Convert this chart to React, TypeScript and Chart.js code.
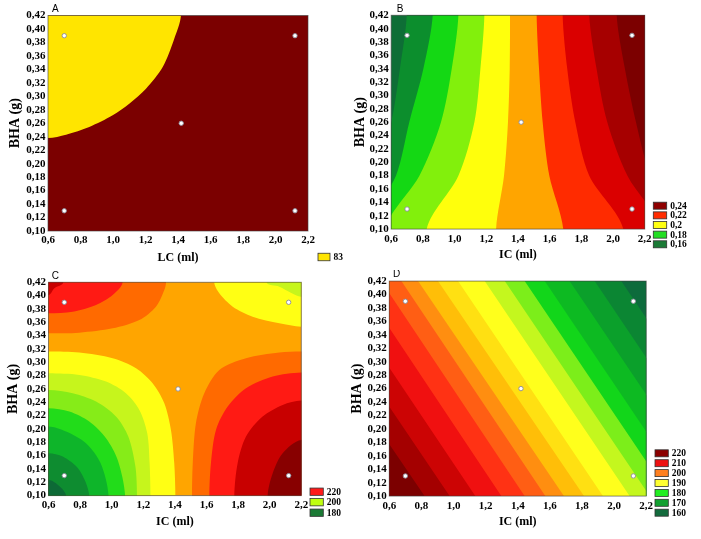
import React, { useEffect, useRef } from 'react';
import { Chart, registerables } from 'chart.js';

Chart.register(...registerables);

type P = [number, number];

// ---------- shared axes and design points ----------
const xTickValues = [0.6, 0.8, 1.0, 1.2, 1.4, 1.6, 1.8, 2.0, 2.2];
const yTickValues = [0.10, 0.12, 0.14, 0.16, 0.18, 0.20, 0.22, 0.24, 0.26, 0.28, 0.30, 0.32, 0.34, 0.36, 0.38, 0.40, 0.42];
const designX = [0.7, 0.7, 1.42, 2.12, 2.12];
const designY = [0.39, 0.13, 0.26, 0.39, 0.13];
const yAxisTitle = 'BHA (g)';

// ---------- panel A ----------
const aXTitle = 'LC (ml)';
const aBaseColor = '#7B0000';
const aYellowColor = '#FFE500';
const aYellowEdge: P[] = [[0.6, 0.238], [0.711, 0.2431], [0.854, 0.2545], [0.998, 0.2718], [1.1, 0.2891], [1.203, 0.3114], [1.306, 0.3435], [1.377, 0.3856], [1.418, 0.42]];
const aLegendLabels = ['83'];
const aLegendColors = ['#FFE500'];

// ---------- panel B (contour edges read at rows of BHA) ----------
const bRowY = [0.42, 0.34, 0.26, 0.18, 0.10];
const bEdge1X = [0.698, 0.655, 0.60, 0.50, 0.38];
const bEdge2X = [0.862, 0.803, 0.714, 0.630, 0.445];
const bEdge3X = [1.024, 0.982, 0.914, 0.778, 0.561];
const bEdge4X = [1.188, 1.163, 1.125, 1.024, 0.824];
const bEdge5X = [1.350, 1.348, 1.337, 1.312, 1.262];
const bEdge6X = [1.518, 1.533, 1.556, 1.598, 1.686];
const bEdge7X = [1.682, 1.711, 1.762, 1.850, 2.065];
const bEdge8X = [1.850, 1.896, 1.964, 2.091, 2.300];
const bEdge9X = [2.023, 2.075, 2.145, 2.235, 2.400];
const bColors = ['#0E6E36', '#0C8E2D', '#14D814', '#82F00C', '#FFFF0C', '#FFA500', '#FF2B00', '#DA0000', '#A60000', '#7C0000'];
const bLegendLabels = ['0,24', '0,22', '0,2', '0,18', '0,16'];
const bLegendColors = ['#8E0000', '#FF2B00', '#FFFF10', '#22DD22', '#1A7A35'];

// ---------- panel C (saddle contours) ----------
const cCenterColor = '#FFA500';
const cLowLeft1: P[] = [[0.6, 0.316], [0.795, 0.3145], [1.006, 0.306], [1.154, 0.291], [1.259, 0.2685], [1.333, 0.2385], [1.375, 0.1985], [1.396, 0.1485], [1.403, 0.10]];
const cLowLeft2: P[] = [[0.6, 0.2835], [0.795, 0.281], [0.964, 0.271], [1.09, 0.2535], [1.175, 0.2285], [1.225, 0.1935], [1.24, 0.1485], [1.245, 0.10]];
const cLowLeft3: P[] = [[0.6, 0.2585], [0.753, 0.2535], [0.901, 0.241], [1.027, 0.2185], [1.105, 0.1885], [1.15, 0.1435], [1.16, 0.10]];
const cLowLeft4: P[] = [[0.6, 0.231], [0.732, 0.226], [0.858, 0.211], [0.964, 0.186], [1.038, 0.1535], [1.085, 0.10]];
const cLowLeft5: P[] = [[0.6, 0.2035], [0.711, 0.196], [0.837, 0.1785], [0.93, 0.1485], [0.98, 0.10]];
const cLowLeft6: P[] = [[0.6, 0.1635], [0.69, 0.1585], [0.795, 0.1385], [0.858, 0.10]];
const cLowLeft7: P[] = [[0.6, 0.1235], [0.647, 0.1185], [0.711, 0.10]];
const cLowLeftColors = ['#FFFF14', '#C6F51C', '#86EC18', '#22DC1A', '#0EB52A', '#0E8C30', '#0D6A36'];
const cHighTop1: P[] = [[0.6, 0.3435], [0.795, 0.3445], [1.006, 0.351], [1.175, 0.3635], [1.28, 0.3835], [1.333, 0.4085], [1.344, 0.42]];
const cHighTop2: P[] = [[0.6, 0.3735], [0.753, 0.376], [0.901, 0.386], [1.006, 0.401], [1.069, 0.42]];
const cHighTop3: P[] = [[0.6, 0.401], [0.637, 0.411], [0.694, 0.42]];
const cHighTopColors = ['#FF6A00', '#FF1A14', '#C80000'];
const cLowTop1: P[] = [[1.649, 0.42], [1.681, 0.4035], [1.766, 0.3835], [1.892, 0.3685], [2.061, 0.3585], [2.2, 0.3535]];
const cLowTop2: P[] = [[1.981, 0.42], [2.061, 0.4135], [2.134, 0.4045], [2.2, 0.3985]];
const cLowTopColors = ['#FFFF14', '#C6F51C'];
const cHighRight1: P[] = [[1.508, 0.10], [1.513, 0.1485], [1.533, 0.2085], [1.586, 0.2535], [1.681, 0.2885], [1.85, 0.306], [2.061, 0.3145], [2.2, 0.316]];
const cHighRight2: P[] = [[1.618, 0.10], [1.628, 0.1485], [1.66, 0.1985], [1.734, 0.2335], [1.85, 0.261], [2.019, 0.2785], [2.2, 0.2845]];
const cHighRight3: P[] = [[1.776, 0.10], [1.797, 0.1485], [1.85, 0.1885], [1.955, 0.2185], [2.082, 0.236], [2.2, 0.2425]];
const cHighRight4: P[] = [[1.987, 0.10], [2.019, 0.1335], [2.082, 0.1635], [2.2, 0.1835]];
const cHighRightColors = ['#FF6A00', '#FF1A14', '#C80000', '#880000'];
const cLegendLabels = ['220', '200', '180'];
const cLegendColors = ['#FF1A1A', '#BFFF10', '#1B7A35'];

// ---------- panel D (straight contour edges, top and bottom crossings) ----------
const dRowTopY = 0.42;
const dRowBottomY = 0.10;
const dTopX = [2.045, 1.879, 1.723, 1.568, 1.443, 1.319, 1.194, 1.028, 0.903, 0.779, 0.675, 0.550, 0.405, 0.239, 0.073, -0.093];
const dBottomX = [2.948, 2.782, 2.626, 2.471, 2.346, 2.222, 2.097, 1.931, 1.813, 1.688, 1.572, 1.443, 1.298, 1.136, 0.976, 0.820];
const dColors = ['#0D6B3C', '#0B8633', '#0BA02B', '#0DBA22', '#12D61A', '#7CEE1A', '#C4F71E', '#FFFF1C', '#FFE012', '#FFBE08', '#FF8E10', '#FF5E14', '#FF3214', '#F01010', '#CC0404', '#A40000', '#7C0000'];
const dLegendLabels = ['220', '210', '200', '190', '180', '170', '160'];
const dLegendColors = ['#8B0000', '#EE1111', '#FF8020', '#FFFF30', '#22EE22', '#12A030', '#136B3D'];

// ---------- polygon helpers (far points lie outside the plot and are clipped) ----------
const FAR_L = 0.0, FAR_R = 2.9, FAR_T = 0.56, FAR_B = -0.04;
const last = (c: P[]) => c[c.length - 1];
const rectPoly = (): P[] => [[FAR_R, FAR_B], [FAR_L, FAR_B], [FAR_L, FAR_T], [FAR_R, FAR_T]];
const tlPoly = (c: P[]): P[] => [[FAR_L, c[0][1]], ...c, [last(c)[0], FAR_T], [FAR_L, FAR_T]];
const blPoly = (c: P[]): P[] => [[FAR_L, FAR_B], [FAR_L, c[0][1]], ...c, [last(c)[0], FAR_B]];
const trPoly = (c: P[]): P[] => [[c[0][0], FAR_T], ...c, [FAR_R, last(c)[1]], [FAR_R, FAR_T]];
const brPoly = (c: P[]): P[] => [[c[0][0], FAR_B], ...c, [FAR_R, last(c)[1]], [FAR_R, FAR_B]];
const rightOf = (xs: number[], ys: number[]): P[] => [[FAR_R, FAR_T], [xs[0], FAR_T], ...xs.map((x, i) => [x, ys[i]] as P), [xs[xs.length - 1], FAR_B], [FAR_R, FAR_B]];
const lowerLeftOf = (xt: number, xb: number): P[] => [[xt, dRowTopY], [xb, dRowBottomY], [xb, FAR_B], [-3, FAR_B], [-3, FAR_T], [xt, FAR_T]];

type Region = { pts: P[]; color: string };

const regionsA: Region[] = [
  { pts: rectPoly(), color: aBaseColor },
  { pts: tlPoly(aYellowEdge), color: aYellowColor },
];
const regionsB: Region[] = [
  { pts: rectPoly(), color: bColors[0] },
  ...[bEdge1X, bEdge2X, bEdge3X, bEdge4X, bEdge5X, bEdge6X, bEdge7X, bEdge8X, bEdge9X].map((xs, i) => ({ pts: rightOf(xs, bRowY), color: bColors[i + 1] })),
];
const regionsC: Region[] = [
  { pts: rectPoly(), color: cCenterColor },
  ...[cLowLeft1, cLowLeft2, cLowLeft3, cLowLeft4, cLowLeft5, cLowLeft6, cLowLeft7].map((c, i) => ({ pts: blPoly(c), color: cLowLeftColors[i] })),
  ...[cHighTop1, cHighTop2, cHighTop3].map((c, i) => ({ pts: tlPoly(c), color: cHighTopColors[i] })),
  ...[cLowTop1, cLowTop2].map((c, i) => ({ pts: trPoly(c), color: cLowTopColors[i] })),
  ...[cHighRight1, cHighRight2, cHighRight3, cHighRight4].map((c, i) => ({ pts: brPoly(c), color: cHighRightColors[i] })),
];
const regionsD: Region[] = [
  { pts: rectPoly(), color: dColors[0] },
  ...dTopX.map((xt, i) => ({ pts: lowerLeftOf(xt, dBottomX[i]), color: dColors[i + 1] })),
];

const asData = (pts: P[]) => {
  const d = pts.map(([x, y]) => ({ x, y }));
  let asc = true;
  for (let i = 1; i < d.length; i++) if (d[i].x < d[i - 1].x) { asc = false; break; }
  return asc ? d.reverse() : d;
};

const SERIF = '"Liberation Serif", "Times New Roman", serif';
const SANS = '"Liberation Sans", Arial, sans-serif';

const decorPlugin = {
  id: 'decor',
  afterDraw(chart: any, _args: any, o: any) {
    const { ctx, chartArea: a } = chart;
    ctx.save();
    ctx.strokeStyle = 'rgba(60,60,60,0.6)';
    ctx.lineWidth = 1;
    ctx.strokeRect(a.left, a.top, a.right - a.left, a.bottom - a.top);
    ctx.fillStyle = '#000';
    ctx.font = '10px ' + SANS;
    ctx.textAlign = 'left';
    ctx.textBaseline = 'alphabetic';
    ctx.fillText(o.letter, a.left + o.letterDx, a.top - o.letterDy);
    ctx.font = 'bold 9.5px ' + SERIF;
    ctx.textBaseline = 'middle';
    o.labels.forEach((lab: string, i: number) => {
      const cy = o.y0 + i * o.step;
      ctx.fillStyle = o.colors[i];
      ctx.fillRect(o.x, cy - o.h / 2, o.w, o.h);
      ctx.strokeStyle = '#333';
      ctx.lineWidth = 0.8;
      ctx.strokeRect(o.x, cy - o.h / 2, o.w, o.h);
      ctx.fillStyle = '#000';
      ctx.fillText(lab, o.x + o.w + 3.5, cy + 0.5);
    });
    ctx.restore();
  },
};

type PanelCfg = {
  left: number; top: number; w: number; h: number;
  plot: { l: number; t: number; r: number; b: number };
  xTitle: string; yTitlePad: number; xTitlePad: number; tension: number;
  regions: Region[];
  letter: string; letterDx: number; letterDy: number;
  legend: { labels: string[]; colors: string[]; x: number; y0: number; step: number; w: number; h: number };
};

const panels: PanelCfg[] = [
  {
    left: 0, top: 0, w: 350, h: 270, plot: { l: 48, t: 15.5, r: 308, b: 231 },
    xTitle: aXTitle, yTitlePad: 8, xTitlePad: 6.3, tension: 0.3, regions: regionsA,
    letter: 'A', letterDx: 4, letterDy: 3.5,
    legend: { labels: aLegendLabels, colors: aLegendColors, x: 318, y0: 257, step: 9.7, w: 12, h: 7.5 },
  },
  {
    left: 350, top: 0, w: 351, h: 270, plot: { l: 41.2, t: 15.3, r: 294.7, b: 229.1 },
    xTitle: 'IC (ml)', yTitlePad: 3, xTitlePad: 9, tension: 0.3, regions: regionsB,
    letter: 'B', letterDx: 5.5, letterDy: 3.3,
    legend: { labels: bLegendLabels, colors: bLegendColors, x: 303.3, y0: 205.7, step: 9.65, w: 13.4, h: 7 },
  },
  {
    left: 0, top: 270, w: 350, h: 269, plot: { l: 48.5, t: 12.3, r: 301.3, b: 225.6 },
    xTitle: 'IC (ml)', yTitlePad: 6.3, xTitlePad: 10.7, tension: 0.3, regions: regionsC,
    letter: 'C', letterDx: 3.2, letterDy: 3,
    legend: { labels: cLegendLabels, colors: cLegendColors, x: 310, y0: 221.7, step: 10.5, w: 13.3, h: 7.3 },
  },
  {
    left: 350, top: 270, w: 351, h: 269, plot: { l: 39.3, t: 11.1, r: 296.2, b: 226.1 },
    xTitle: 'IC (ml)', yTitlePad: 0, xTitlePad: 10.7, tension: 0, regions: regionsD,
    letter: 'D', letterDx: 3.7, letterDy: 4.4,
    legend: { labels: dLegendLabels, colors: dLegendColors, x: 305, y0: 183.3, step: 9.9, w: 13.3, h: 7 },
  },
];

function buildConfig(p: PanelCfg): any {
  const regionSets = p.regions.map((r) => ({
    type: 'line',
    data: asData(r.pts),
    backgroundColor: r.color,
    borderColor: r.color,
    borderWidth: 0,
    showLine: false,
    pointRadius: 0,
    pointHoverRadius: 0,
    fill: 'shape',
    tension: p.tension,
    capBezierPoints: false,
  }));
  const pointsSet = {
    type: 'line',
    data: designX.map((x, i) => ({ x, y: designY[i] })),
    showLine: false,
    fill: false,
    borderWidth: 0,
    pointRadius: 2.2,
    pointBackgroundColor: '#ffffff',
    pointBorderColor: '#8a8a9a',
    pointBorderWidth: 0.9,
  };
  const tickFont = { family: SERIF, size: 11, weight: 'bold' };
  return {
    type: 'line',
    data: { datasets: [pointsSet, ...regionSets.slice().reverse()] },
    options: {
      responsive: false,
      animation: false,
      devicePixelRatio: 1,
      events: [],
      layout: { padding: { left: 0, top: p.plot.t, right: p.w - p.plot.r, bottom: 0 } },
      elements: { line: { capBezierPoints: false } },
      plugins: {
        legend: { display: false },
        tooltip: { enabled: false },
        filler: { propagate: false },
        decor: { letter: p.letter, letterDx: p.letterDx, letterDy: p.letterDy, ...p.legend },
      },
      scales: {
        x: {
          type: 'linear', min: 0.6, max: 2.2,
          grid: { display: false, drawTicks: false },
          border: { display: false },
          afterBuildTicks: (s: any) => { s.ticks = xTickValues.map((v) => ({ value: v })); },
          afterFit: (s: any) => { s.height = p.h - p.plot.b; },
          ticks: {
            autoSkip: false, maxRotation: 0, minRotation: 0, padding: 3, color: '#000', font: tickFont,
            callback: (v: any) => Number(v).toFixed(1).replace('.', ','),
          },
          title: { display: true, text: p.xTitle, color: '#000', font: { family: SERIF, size: 12, weight: 'bold', lineHeight: 1 }, padding: { top: 0, bottom: p.xTitlePad } },
        },
        y: {
          type: 'linear', min: 0.1, max: 0.42,
          grid: { display: false, drawTicks: false },
          border: { display: false },
          afterBuildTicks: (s: any) => { s.ticks = yTickValues.map((v) => ({ value: v })); },
          afterFit: (s: any) => { s.width = p.plot.l; },
          ticks: {
            autoSkip: false, padding: 2.5, color: '#000', font: tickFont,
            callback: (v: any) => Number(v).toFixed(2).replace('.', ','),
          },
          title: { display: true, text: yAxisTitle, color: '#000', font: { family: SERIF, size: 14, weight: 'bold', lineHeight: 1 }, padding: { top: p.yTitlePad, bottom: 0 } },
        },
      },
    },
    plugins: [decorPlugin],
  };
}

function Panel({ cfg }: { cfg: PanelCfg }) {
  const ref = useRef<HTMLCanvasElement>(null);
  useEffect(() => {
    const c = ref.current;
    if (!c) return;
    const chart = new Chart(c, buildConfig(cfg));
    return () => chart.destroy();
  }, [cfg]);
  return (
    <canvas
      ref={ref}
      width={cfg.w}
      height={cfg.h}
      style={{ position: 'absolute', left: cfg.left, top: cfg.top, width: cfg.w, height: cfg.h }}
    />
  );
}

export default function App() {
  return (
    <div style={{ position: 'absolute', left: 0, top: 0, width: 701, height: 539, background: '#fff', overflow: 'hidden' }}>
      {panels.map((p, i) => (
        <Panel key={i} cfg={p} />
      ))}
    </div>
  );
}
